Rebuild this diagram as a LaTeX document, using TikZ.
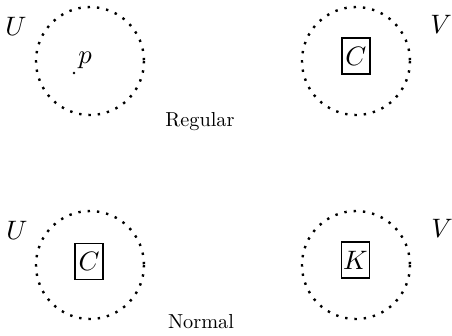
\documentclass[tikz,border=0pt]{standalone}
\begin{document}
\begin{tikzpicture}[x=0.375pt,y=-0.375pt,
  nbhd/.style={line width=0.9pt,dash pattern=on 0.9pt off 2.6pt},
  setbox/.style={draw,line width=0.6pt,inner sep=0pt,minimum width=10.5pt,minimum height=13.5pt},
  lab/.style={inner sep=0pt},
  captext/.style={inner sep=0pt,anchor=base}]
\useasboundingbox (0,0) rectangle (452,335);
% top row
\node[lab] (U1) at (16,26) {$U$};
\draw[nbhd] (90,61) circle (54);
\fill (74,73) circle (0.5pt) coordinate (pt);
\node[lab] (p) at (85,60) {$p$};
\draw[nbhd] (356,61) circle (54);
\node[setbox] (C1) at (355.8,56) {$C$};
\node[lab] (V1) at (441,24) {$V$};
\node[captext] (reg) at (200,126) {\scalebox{0.76}{Regular}};
% bottom row
\node[lab] (U2) at (17,230) {$U$};
\draw[nbhd] (90,265) circle (54);
\node[setbox] (C2) at (89,261.5) {$C$};
\draw[nbhd] (356,265) circle (54);
\node[setbox] (K) at (355.5,260) {$K$};
\node[lab] (V2) at (442,228) {$V$};
\node[captext] (nor) at (201,328) {\scalebox{0.76}{Normal}};
\end{tikzpicture}
\end{document}
